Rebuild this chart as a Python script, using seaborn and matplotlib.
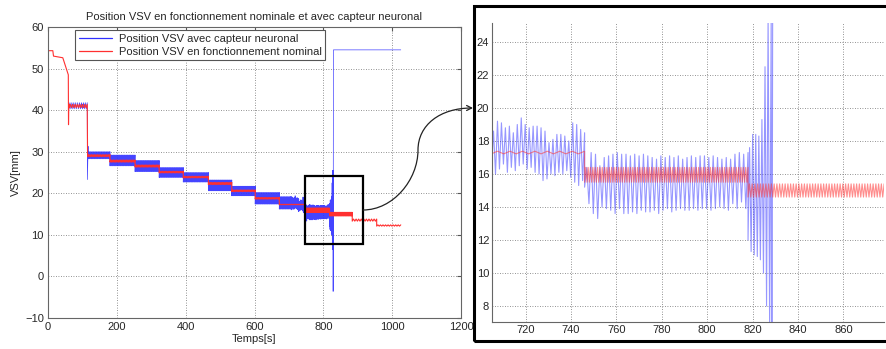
import numpy as np
import pandas as pd
import matplotlib
matplotlib.use("Agg")
import matplotlib.pyplot as plt
import seaborn as sns
from matplotlib.patches import Rectangle, FancyArrowPatch
from matplotlib.path import Path

# ---------------- data ----------------
series_names = ["Position VSV avec capteur neuronal",
                "Position VSV en fonctionnement nominal"]

# start-up transient of the nominal curve
start_t = [0, 14, 16, 43, 57, 59, 59.6, 60.4, 61]
start_v = [54.3, 54.3, 53.0, 52.6, 49.0, 48.5, 36.5, 41.5, 41.0]

# nominal (red) plateaus: start, end, band low, band high, wiggles
red_t0 = [61, 115, 180, 253, 323, 393, 466, 534, 602, 672, 746, 818, 884, 955]
red_t1 = [114, 180, 253, 323, 393, 466, 534, 602, 672, 746, 818, 884, 955, 1025]
red_lo = [40.6, 28.8, 27.5, 26.3, 24.9, 23.7, 22.1, 20.4, 18.6, 17.22, 15.5, 14.6, 13.3, 12.1]
red_hi = [41.4, 29.3, 28.0, 26.8, 25.3, 24.1, 22.6, 20.8, 19.0, 17.38, 16.4, 15.4, 13.8, 12.4]
red_n = [8, 15, 18, 18, 18, 18, 18, 18, 18, 14, 70, 55, 10, 10]

# neural-sensor (blue) bands before the zoomed window
blue_t0 = [61, 114.5, 117, 180, 253, 323, 393, 466, 534, 602, 672]
blue_t1 = [114, 116.5, 180, 253, 323, 393, 466, 534, 602, 672, 705]
blue_lo = [40.3, 23.3, 28.3, 26.6, 25.2, 23.8, 22.7, 20.6, 19.4, 17.4, 16.2]
blue_hi = [41.8, 31.3, 30.0, 29.2, 27.9, 26.2, 25.0, 23.2, 21.7, 20.2, 19.2]
blue_n = [10, 1, 30, 35, 35, 35, 35, 35, 35, 35, 16]

# blue oscillation peaks/troughs inside the zoomed window
zoomA_t = (705, 746)
zoomA_hi = [18.6, 19.2, 19.1, 18.8, 18.9, 18.5, 19.0, 19.4, 19.0, 18.8, 18.9, 18.9,
            18.8, 18.6, 17.9, 18.1, 18.4, 18.4, 18.3, 18.0, 19.1, 19.0, 18.7, 18.5]
zoomA_lo = [16.4, 16.0, 16.3, 16.6, 16.1, 16.4, 16.2, 16.5, 16.6, 16.3, 16.4, 16.1,
            16.0, 15.6, 15.7, 16.0, 15.9, 16.1, 16.0, 16.2, 15.8, 15.5, 15.3, 15.6]
zoomB_t = (746, 818)
zoomB_hi = [16.4, 17.3, 17.2, 16.5, 17.0, 17.1, 17.2, 17.3, 17.2, 17.2, 17.1, 17.2, 17.1,
            17.2, 17.1, 17.0, 16.9, 17.1, 17.0, 17.1, 17.0, 17.1, 16.9, 17.0, 17.1, 17.0,
            17.1, 17.1, 17.0, 17.1, 17.0, 16.9, 17.0, 16.9, 17.2, 17.3, 17.2, 17.3]
zoomB_lo = [15.2, 14.2, 13.6, 13.3, 14.0, 13.9, 13.8, 13.6, 13.9, 13.6, 13.6, 13.7, 13.6,
            13.8, 13.7, 13.7, 13.8, 13.6, 13.8, 13.9, 13.7, 13.8, 13.9, 13.8, 13.8, 13.9,
            13.8, 13.9, 13.9, 13.8, 13.9, 14.0, 13.9, 13.8, 14.2, 13.9, 14.3, 13.9]
zoomC_t = (818, 828.2)
zoomC_hi = [17.6, 18.4, 18.4, 18.3, 19.3, 22.5, 25.5, 25.5]
zoomC_lo = [12.0, 11.3, 11.1, 11.0, 10.8, 10.0, 8.0, 6.5]

# final divergence of the neural-sensor curve
end_t = [828.5, 829.0, 829.4, 1025]
end_v = [-3.6, 38.8, 54.5, 54.5]


# ---------------- build the curves ----------------
def band(t0, t1, lo, hi, n):
    t = np.linspace(t0, t1, 2 * n)
    v = np.array([lo, hi] * n, dtype=float)
    return list(t), list(v)


def peaks(trange, lows, highs):
    n = len(lows)
    t = np.linspace(trange[0], trange[1], 2 * n)
    v = np.empty(2 * n)
    v[0::2] = lows
    v[1::2] = highs
    return list(t), list(v)


rt, rv = list(start_t), list(start_v)
for a, b, lo, hi, n in zip(red_t0, red_t1, red_lo, red_hi, red_n):
    t, v = band(a, b, lo, hi, n)
    rt += t
    rv += v

bt, bv = [], []
for a, b, lo, hi, n in zip(blue_t0, blue_t1, blue_lo, blue_hi, blue_n):
    t, v = band(a, b, lo, hi, n)
    bt += t
    bv += v
for tr, lo, hi in [(zoomA_t, zoomA_lo, zoomA_hi), (zoomB_t, zoomB_lo, zoomB_hi),
                   (zoomC_t, zoomC_lo, zoomC_hi)]:
    t, v = peaks(tr, lo, hi)
    bt += t
    bv += v
bt += end_t
bv += end_v

df = pd.DataFrame({
    "t": bt + rt,
    "v": bv + rv,
    "serie": [series_names[0]] * len(bt) + [series_names[1]] * len(rt),
})

# ---------------- figure ----------------
sns.set_style("white")
plt.rcParams["font.family"] = ["Liberation Sans", "DejaVu Sans"]
plt.rcParams["font.size"] = 8

W, H = 886, 349
fig = plt.figure(figsize=(W / 100, H / 100), dpi=100)


def fx(x):
    return x / W


def fy(y):
    return 1 - y / H


ax1 = fig.add_axes([fx(48), fy(318), (461 - 48) / W, (318 - 27) / H])
ax2 = fig.add_axes([fx(492), fy(322), (884 - 492) / W, (322 - 23) / H])

pal_left = {series_names[0]: "#3030ff", series_names[1]: "#ff3030"}
sns.lineplot(data=df[df.serie == series_names[0]], x="t", y="v", color="#3030ff",
             estimator=None, sort=False, ax=ax1, lw=0.5, alpha=0.9,
             label=series_names[0])
sns.lineplot(data=df[df.serie == series_names[1]], x="t", y="v", color="#ff3030",
             estimator=None, sort=False, ax=ax1, lw=0.8, label=series_names[1])

sns.lineplot(data=df[df.serie == series_names[0]], x="t", y="v", color="#3030ff",
             estimator=None, sort=False, ax=ax2, lw=0.8, alpha=0.5, legend=False)
sns.lineplot(data=df[df.serie == series_names[1]], x="t", y="v", color="#ff3030",
             estimator=None, sort=False, ax=ax2, lw=0.8, alpha=0.55, legend=False)

for ax in (ax1, ax2):
    ax.grid(True, color="#707070", linestyle=(0, (1, 2)), lw=0.6)
    ax.set_axisbelow(True)
    ax.tick_params(direction="in", length=3, color="#555555", labelsize=8, pad=3)
    for s in ax.spines.values():
        s.set_color("#666666")
        s.set_linewidth(0.8)

ax1.set_xlim(0, 1200)
ax1.set_ylim(-10, 60)
ax1.set_xticks(range(0, 1201, 200))
ax1.set_yticks(range(-10, 61, 10))
ax1.set_xlabel("Temps[s]", labelpad=1)
ax1.set_ylabel("VSV[mm]", labelpad=3)
ax1.set_title("Position VSV en fonctionnement nominale et avec capteur neuronal",
              fontsize=8, pad=5)
ax1.tick_params(top=True, right=True)

ax2.set_xlim(705.2, 877.9)
ax2.set_ylim(7.03, 25.15)
ax2.set_xticks(range(720, 861, 20))
ax2.set_yticks(range(8, 25, 2))
ax2.set_xlabel("")
ax2.set_ylabel("")
ax2.spines["top"].set_visible(False)
ax2.spines["right"].set_visible(False)
ax2.tick_params(pad=2)

leg = ax1.legend(loc="upper left", bbox_to_anchor=(0.065, 0.99), borderaxespad=0,
                 fancybox=False, edgecolor="#555555", framealpha=1, fontsize=8,
                 handlelength=3.0, borderpad=0.35, labelspacing=0.25, handletextpad=0.6)
leg.get_frame().set_linewidth(0.8)
for h in leg.get_lines():
    h.set_linewidth(0.9)
    h.set_alpha(1)

# zoom rectangle on the left panel
ax1.add_patch(Rectangle((747, 7.7), 168, 16.5, fill=False, ec="black", lw=1.6, zorder=5))

# frame around the inset
fig.patches.append(Rectangle((fx(474), fy(341)), 1.05 - fx(474), fy(6) - fy(341),
                             transform=fig.transFigure, fill=False, ec="black", lw=2.2))

# connecting arrow
verts = [(363, 210), (393, 210), (418, 180), (418, 150),
         (418, 125), (440, 108), (473, 108)]
verts = [(fx(x), fy(y)) for x, y in verts]
codes = [Path.MOVETO, Path.CURVE4, Path.CURVE4, Path.CURVE4,
         Path.CURVE4, Path.CURVE4, Path.CURVE4]
arr = FancyArrowPatch(path=Path(verts, codes), arrowstyle="->", mutation_scale=9,
                      lw=0.9, color="#222222", transform=fig.transFigure)
fig.patches.append(arr)

fig.savefig("out.png", dpi=100)
